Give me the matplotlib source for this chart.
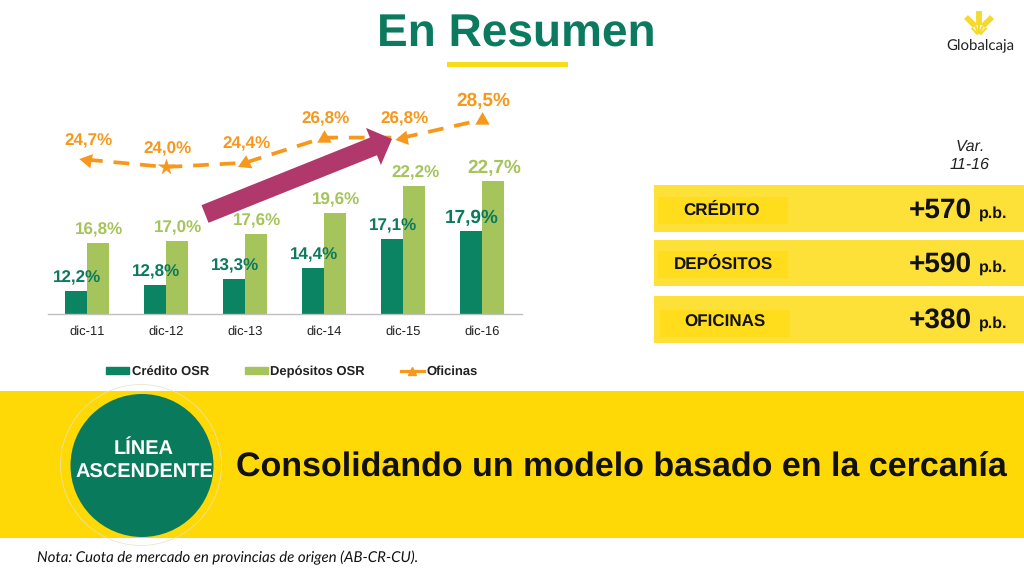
import numpy as np
import matplotlib
matplotlib.use("Agg")
import matplotlib.pyplot as plt
from matplotlib.lines import Line2D
from matplotlib.patches import Circle, FancyArrow, Rectangle

plt.rcParams["font.family"] = ["Liberation Sans", "DejaVu Sans"]
plt.rcParams["text.hinting"] = "none"
plt.rcParams["text.hinting_factor"] = 1

# ── Data ──────────────────────────────────────────────────────────────────────
YEARS = ["dic-11", "dic-12", "dic-13", "dic-14", "dic-15", "dic-16"]
CREDITO = [12.2, 12.8, 13.3, 14.4, 17.1, 17.9]
DEPOSITOS = [16.8, 17.0, 17.6, 19.6, 22.2, 22.7]
OFICINAS = [24.7, 24.0, 24.4, 26.8, 26.8, 28.5]

PANEL_NAMES = ["CRÉDITO", "DEPÓSITOS", "OFICINAS"]
PANEL_VALUES = ["+570", "+590", "+380"]

# ── Styles ────────────────────────────────────────────────────────────────────
GREEN = "#0A8463"
DARK_GREEN = "#0B7A5E"
LIGHT_GREEN = "#A6C45C"
ORANGE = "#F7981D"
BAND_YELLOW = "#FFD905"
PANEL_YELLOW = "#FDE038"
INNER_YELLOW = "#FFDD1C"
ARROW_RED = "#B0386A"
LOGO_YELLOW = "#F7D92C"

W, H = 1024, 576
BAR_W = 0.28
PX = 0.72  # points per pixel at dpi 100

# marker per office point, as in the slide
MARKERS = [(3, 0, 80), "*", (3, 0, -5), (3, 0, 0), (3, 0, 100), (3, 0, 0)]
MARKER_SIZES = [12, 13, 12, 12, 12, 12]
CRED_SIZES = [12, 12, 12, 12, 12, 13.5]
DEP_SIZES = [12, 12, 12, 12, 12, 13.5]
OFI_SIZES = [12, 12, 12, 12, 12, 13.5]

fig = plt.figure(figsize=(W / 100, H / 100), dpi=100, facecolor="white")


def px_axes(left, top, right, bottom):
    return [left / W, 1 - bottom / H, (right - left) / W, (bottom - top) / H]


# ── Chart ─────────────────────────────────────────────────────────────────────
ax = fig.add_axes(px_axes(47.5, 104, 521.5, 314))
ax.patch.set_alpha(0)
x = np.arange(len(YEARS))
ax.bar(x - BAR_W / 2, CREDITO, BAR_W, color=GREEN, label="Crédito OSR")
ax.bar(x + BAR_W / 2, DEPOSITOS, BAR_W, color=LIGHT_GREEN, label="Depósitos OSR")
ax.plot(x, OFICINAS, color=ORANGE, lw=2.7, dashes=(4.2, 2.9), zorder=3)
for xi, yi, m, ms in zip(x, OFICINAS, MARKERS, MARKER_SIZES):
    ax.plot(xi, yi, marker=m, ms=ms, color=ORANGE, mec="none", zorder=4)

for xi, v, fs in zip(x, CREDITO, CRED_SIZES):
    ax.annotate(f"{v:.1f}%".replace(".", ","), (xi, v), xytext=(-10 * PX, 13 * PX),
                textcoords="offset points", ha="center", va="center",
                color=DARK_GREEN, fontsize=fs, fontweight="bold", zorder=5)
for xi, v, fs in zip(x, DEPOSITOS, DEP_SIZES):
    ax.annotate(f"{v:.1f}%".replace(".", ","), (xi, v), xytext=(12.5 * PX, 13 * PX),
                textcoords="offset points", ha="center", va="center",
                color=LIGHT_GREEN, fontsize=fs, fontweight="bold", zorder=5)
for xi, v, fs in zip(x, OFICINAS, OFI_SIZES):
    ax.annotate(f"{v:.1f}%".replace(".", ","), (xi, v), xytext=(1.5 * PX, 18.5 * PX),
                textcoords="offset points", ha="center", va="center",
                color=ORANGE, fontsize=fs, fontweight="bold", zorder=5)

ax.set_xlim(-0.5, 5.5)
ax.set_ylim(10, 30)
ax.set_xticks(x, YEARS, fontsize=9.3, color="#222222")
ax.set_yticks([])
ax.tick_params(axis="x", length=0, pad=8)
for side in ["top", "left", "right"]:
    ax.spines[side].set_visible(False)
ax.spines["bottom"].set_color("#BFBFBF")
ax.spines["bottom"].set_linewidth(1)

handles = [
    Rectangle((0, 0), 1, 1, color=GREEN),
    Rectangle((0, 0), 1, 1, color=LIGHT_GREEN),
    Line2D([], [], color=ORANGE, lw=2.3, marker="^", ms=6, markevery=[1]),
]
fig.legend(handles, ["Crédito OSR", "Depósitos OSR", "Oficinas"], ncol=3, frameon=False,
           loc="center", bbox_to_anchor=(292 / W, 1 - 371.5 / H), handlelength=1.75, handleheight=0.5,
           handletextpad=0.2, columnspacing=2.75, prop={"size": 9.4, "weight": "bold"},
           labelcolor="#222222")

# ── Slide furniture, in pixel coordinates ─────────────────────────────────────
dec = fig.add_axes([0, 0, 1, 1])
dec.set_xlim(0, W)
dec.set_ylim(H, 0)
dec.axis("off")
dec.patch.set_alpha(0)

dec.text(516, 47, "En Resumen", ha="center", va="baseline", fontsize=33.2, fontweight="bold", color=DARK_GREEN)
dec.add_patch(Rectangle((447, 62), 121, 5, color="#F7DC1A", lw=0))

# growth arrow over the chart
dec.add_patch(FancyArrow(205, 214, 187, -75, width=19, head_width=40, head_length=20,
                         length_includes_head=True, color=ARROW_RED, lw=0, zorder=6))

# logo: central ear, two side ears, thin stalks underneath
dec.plot([979, 979], [11, 25], color=LOGO_YELLOW, lw=4.2, solid_capstyle="butt")
dec.plot([975, 966], [26, 17], color=LOGO_YELLOW, lw=4, solid_capstyle="butt")
dec.plot([983, 992], [26, 17], color=LOGO_YELLOW, lw=4, solid_capstyle="butt")
for ang in [-42, -20, 0, 20, 42]:
    a = np.radians(ang)
    dec.plot([979 + 2 * np.sin(a), 979 + 11 * np.sin(a)], [36 - 2 * np.cos(a), 36 - 11 * np.cos(a)],
             color=LOGO_YELLOW, lw=1.5, solid_capstyle="butt")
dec.text(980, 45, "Globalcaja", ha="center", va="center", fontsize=10.5, family="Lato", color="#222222")

# right-hand panels
dec.text(970, 147, "Var.", ha="center", va="center", fontsize=11.7, style="italic", color="#222222")
dec.text(970, 165, "11-16", ha="center", va="center", fontsize=11.7, style="italic", color="#222222")
panel_tops = [185, 240, 296]
panel_hs = [47, 46, 47]
inner_boxes = [(658, 197), (658, 251), (660, 310)]
name_pos = [(722, 210), (723, 264), (725, 322.5)]
baselines = [217.5, 272, 328]
for i, name in enumerate(PANEL_NAMES):
    dec.add_patch(Rectangle((654, panel_tops[i]), W - 654, panel_hs[i], color=PANEL_YELLOW, lw=0))
    dec.add_patch(Rectangle(inner_boxes[i], 130, 27, color=INNER_YELLOW, lw=0))
    dec.text(*name_pos[i], name, ha="center", va="center", fontsize=12, fontweight="bold", color="#111111")
    dec.text(972, baselines[i], PANEL_VALUES[i], ha="right", va="baseline", fontsize=19.8, fontweight="bold", color="#111111")
    dec.text(979, baselines[i], "p.b.", ha="left", va="baseline", fontsize=11.8, fontweight="bold", color="#111111")

# bottom band
dec.add_patch(Rectangle((0, 391), W, 147, color=BAND_YELLOW, lw=0))
dec.add_patch(Circle((141, 465), 80.5, fill=False, ec="#E6E2C4", lw=0.5, zorder=3))
dec.add_patch(Circle((142, 465.5), 71.5, color="#0A7A5C", lw=0, zorder=4))
dec.text(144, 449, "LÍNEA", ha="center", va="center", fontsize=14.5, fontweight="bold", color="white", zorder=5)
dec.text(144, 473, "ASCENDENTE", ha="center", va="center", fontsize=14.5, fontweight="bold", color="white", zorder=5)
dec.text(621.5, 477, "Consolidando un modelo basado en la cercanía", ha="center", va="baseline",
         fontsize=24.5, fontweight="bold", color="#111111")
dec.text(37, 562, "Nota: Cuota de mercado en provincias de origen (AB-CR-CU).", ha="left", va="baseline",
         fontsize=11.07, style="italic", family="Lato", color="#111111")

fig.savefig("out.png", dpi=100)
